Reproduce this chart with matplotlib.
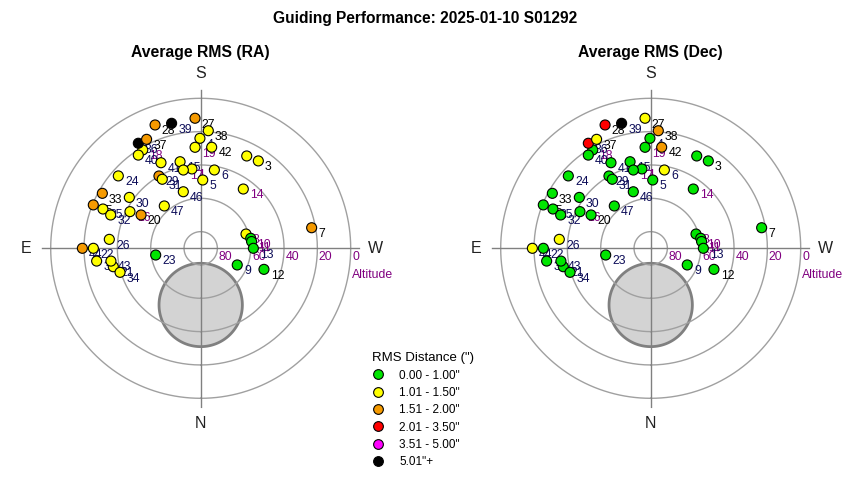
import numpy as np
import matplotlib
matplotlib.use('Agg')
import matplotlib.pyplot as plt
from matplotlib.lines import Line2D

plt.rcParams['font.family'] = ['Liberation Sans', 'DejaVu Sans']

# Data ------------------------------------------------------------------------
point_ids = list(range(1, 48))
# azimuth (deg, N=0, E=90) and altitude (deg) of each guiding sample
azimuth = [173.7, 206.5, 213.4, 179.6, 181.7, 189.9, 259.5, 252.5, 294.5, 258.7,
           262.4, 288.4, 270.0, 215.7, 166.6, 117.4, 167.5, 149.5, 176.8, 119.2,
           78.1, 90.0, 81.5, 131.3, 111.9, 95.6, 177.5, 159.7, 150.0, 125.5,
           150.9, 110.3, 119.2, 73.4, 83.0, 149.3, 153.6, 183.7, 166.9, 146.2,
           155.1, 186.2, 81.9, 90.0, 112.0, 162.9, 139.3]
altitude = [42.1, 28.1, 27.2, 24.0, 49.0, 42.3, 22.3, 61.5, 65.9, 59.4,
            59.2, 50.0, 58.4, 46.2, 36.6, 42.2, 41.9, 21.5, 29.3, 49.0,
            36.4, 25.6, 62.7, 24.2, 26.8, 34.9, 11.9, 11.1, 39.9, 37.4,
            42.6, 32.4, 22.4, 39.5, 27.1, 16.7, 17.0, 19.3, 13.0, 22.7,
            33.4, 29.0, 35.6, 19.0, 20.5, 54.5, 56.5]
# RMS bin of each sample (0: 0-1", 1: 1-1.5", 2: 1.5-2", 3: 2-3.5", 4: 3.5-5", 5: >5")
ra_bin = [1, 1, 1, 1, 1, 1, 2, 1, 0, 0,
          0, 0, 0, 1, 1, 1, 1, 1, 1, 2,
          1, 1, 0, 1, 1, 1, 2, 2, 2, 1,
          1, 1, 2, 1, 1, 5, 2, 1, 5, 1,
          1, 1, 1, 2, 2, 1, 1]
dec_bin = [0, 0, 0, 0, 0, 1, 0, 0, 0, 0,
           0, 0, 0, 0, 0, 0, 0, 0, 0, 0,
           0, 0, 0, 0, 0, 1, 1, 3, 0, 0,
           0, 0, 0, 0, 0, 3, 1, 2, 5, 0,
           0, 2, 0, 1, 0, 0, 0]

bin_labels = ['0.00 - 1.00"', '1.01 - 1.50"', '1.51 - 2.00"',
              '2.01 - 3.50"', '3.51 - 5.00"', '5.01"+']
alt_rings = [80, 60, 40, 20, 0]

purple_ids = [1, 8, 10, 11, 14, 16, 17, 18, 19]
black_ids = [2, 3, 7, 12, 20, 27, 28, 33, 37, 38, 42, 45]

# Style -----------------------------------------------------------------------
bin_colors = ['#00e600', '#ffff00', '#f59a00', '#ff0000', '#ff00ff', '#000000']
RMAX = 96  # zenith distance at the edge of the axes

fig = plt.figure(figsize=(8.5, 4.8), dpi=100)
fig.text(0.5, 1 - 18 / 480, 'Guiding Performance: 2025-01-10 S01292',
         ha='center', va='center', fontsize=11.2, fontweight='bold')


def sky_panel(rect, title, bins):
    ax = fig.add_axes(rect, projection='polar')
    ax.set_theta_zero_location('S')
    ax.set_theta_direction(-1)
    ax.set_ylim(0, RMAX)
    ax.grid(False)
    ax.set_xticks([])
    ax.set_yticks([])
    ax.spines['polar'].set_visible(False)
    ax.patch.set_visible(False)

    # area hidden by the mount / pier
    t = np.linspace(0, 2 * np.pi, 200)
    u = 25 * np.cos(t)
    v = 34 + 25 * np.sin(t)
    ax.fill(np.arctan2(u, v), np.hypot(u, v), facecolor='#d3d3d3',
            edgecolor='#808080', lw=2, zorder=1)

    # altitude rings and cross
    th = np.linspace(0, 2 * np.pi, 361)
    for a in alt_rings:
        ax.plot(th, np.full_like(th, 90 - a), color='#a0a0a0', lw=1, zorder=2)
        ax.annotate(str(a), xy=(np.radians(270), 90 - a), xytext=(1, -6.5),
                    textcoords='offset points', ha='left', va='center',
                    color='#800080', fontsize=8.8)
    ax.annotate('Altitude', xy=(np.radians(270), 90), xytext=(1, -19.5),
                textcoords='offset points', ha='left', va='center',
                color='#800080', fontsize=8.8)
    for d in [0, 90, 180, 270]:
        ax.plot([np.radians(d)] * 2, [0, 95], color='#808080', lw=1, zorder=2)
    for d, s in zip([0, 90, 180, 270], ['N', 'E', 'S', 'W']):
        ax.text(np.radians(d), 105, s, ha='center', va='center', fontsize=11.5,
                color='#222222', clip_on=False)

    # samples
    th_pts = np.radians(azimuth)
    r_pts = 90 - np.array(altitude)
    for pid, tt, rr in zip(point_ids, th_pts, r_pts):
        c = '#800080' if pid in purple_ids else ('#000000' if pid in black_ids else '#0c0c58')
        ax.annotate(str(pid), xy=(tt, rr), xytext=(4.8, -4.5),
                    textcoords='offset points', ha='left', va='center',
                    fontsize=8.8, color=c, zorder=3)
    ax.scatter(th_pts, r_pts, s=52, c=[bin_colors[b] for b in bins],
               edgecolors='black', linewidths=0.8, zorder=4)

    fig.text(rect[0] + rect[2] / 2, 1 - 53 / 480, title, ha='center',
             va='center', fontsize=11.3, fontweight='bold')
    return ax


sky_panel([40.7 / 850, 71.7 / 480, 320 / 850, 320 / 480], 'Average RMS (RA)', ra_bin)
sky_panel([490.7 / 850, 71.7 / 480, 320 / 850, 320 / 480], 'Average RMS (Dec)', dec_bin)

handles = [Line2D([], [], marker='o', ls='', markersize=7, markerfacecolor=c,
                  markeredgecolor='black', markeredgewidth=0.8) for c in bin_colors]
fig.legend(handles, bin_labels, title='RMS Distance (")', loc='upper left',
           bbox_to_anchor=(364 / 850, 1 - 344 / 480), frameon=False,
           fontsize=8.5, title_fontsize=9.5, labelspacing=0.45,
           handletextpad=1.3, handlelength=1.0, borderpad=0.2,
           alignment='left')

fig.savefig('out.png', dpi=100)
